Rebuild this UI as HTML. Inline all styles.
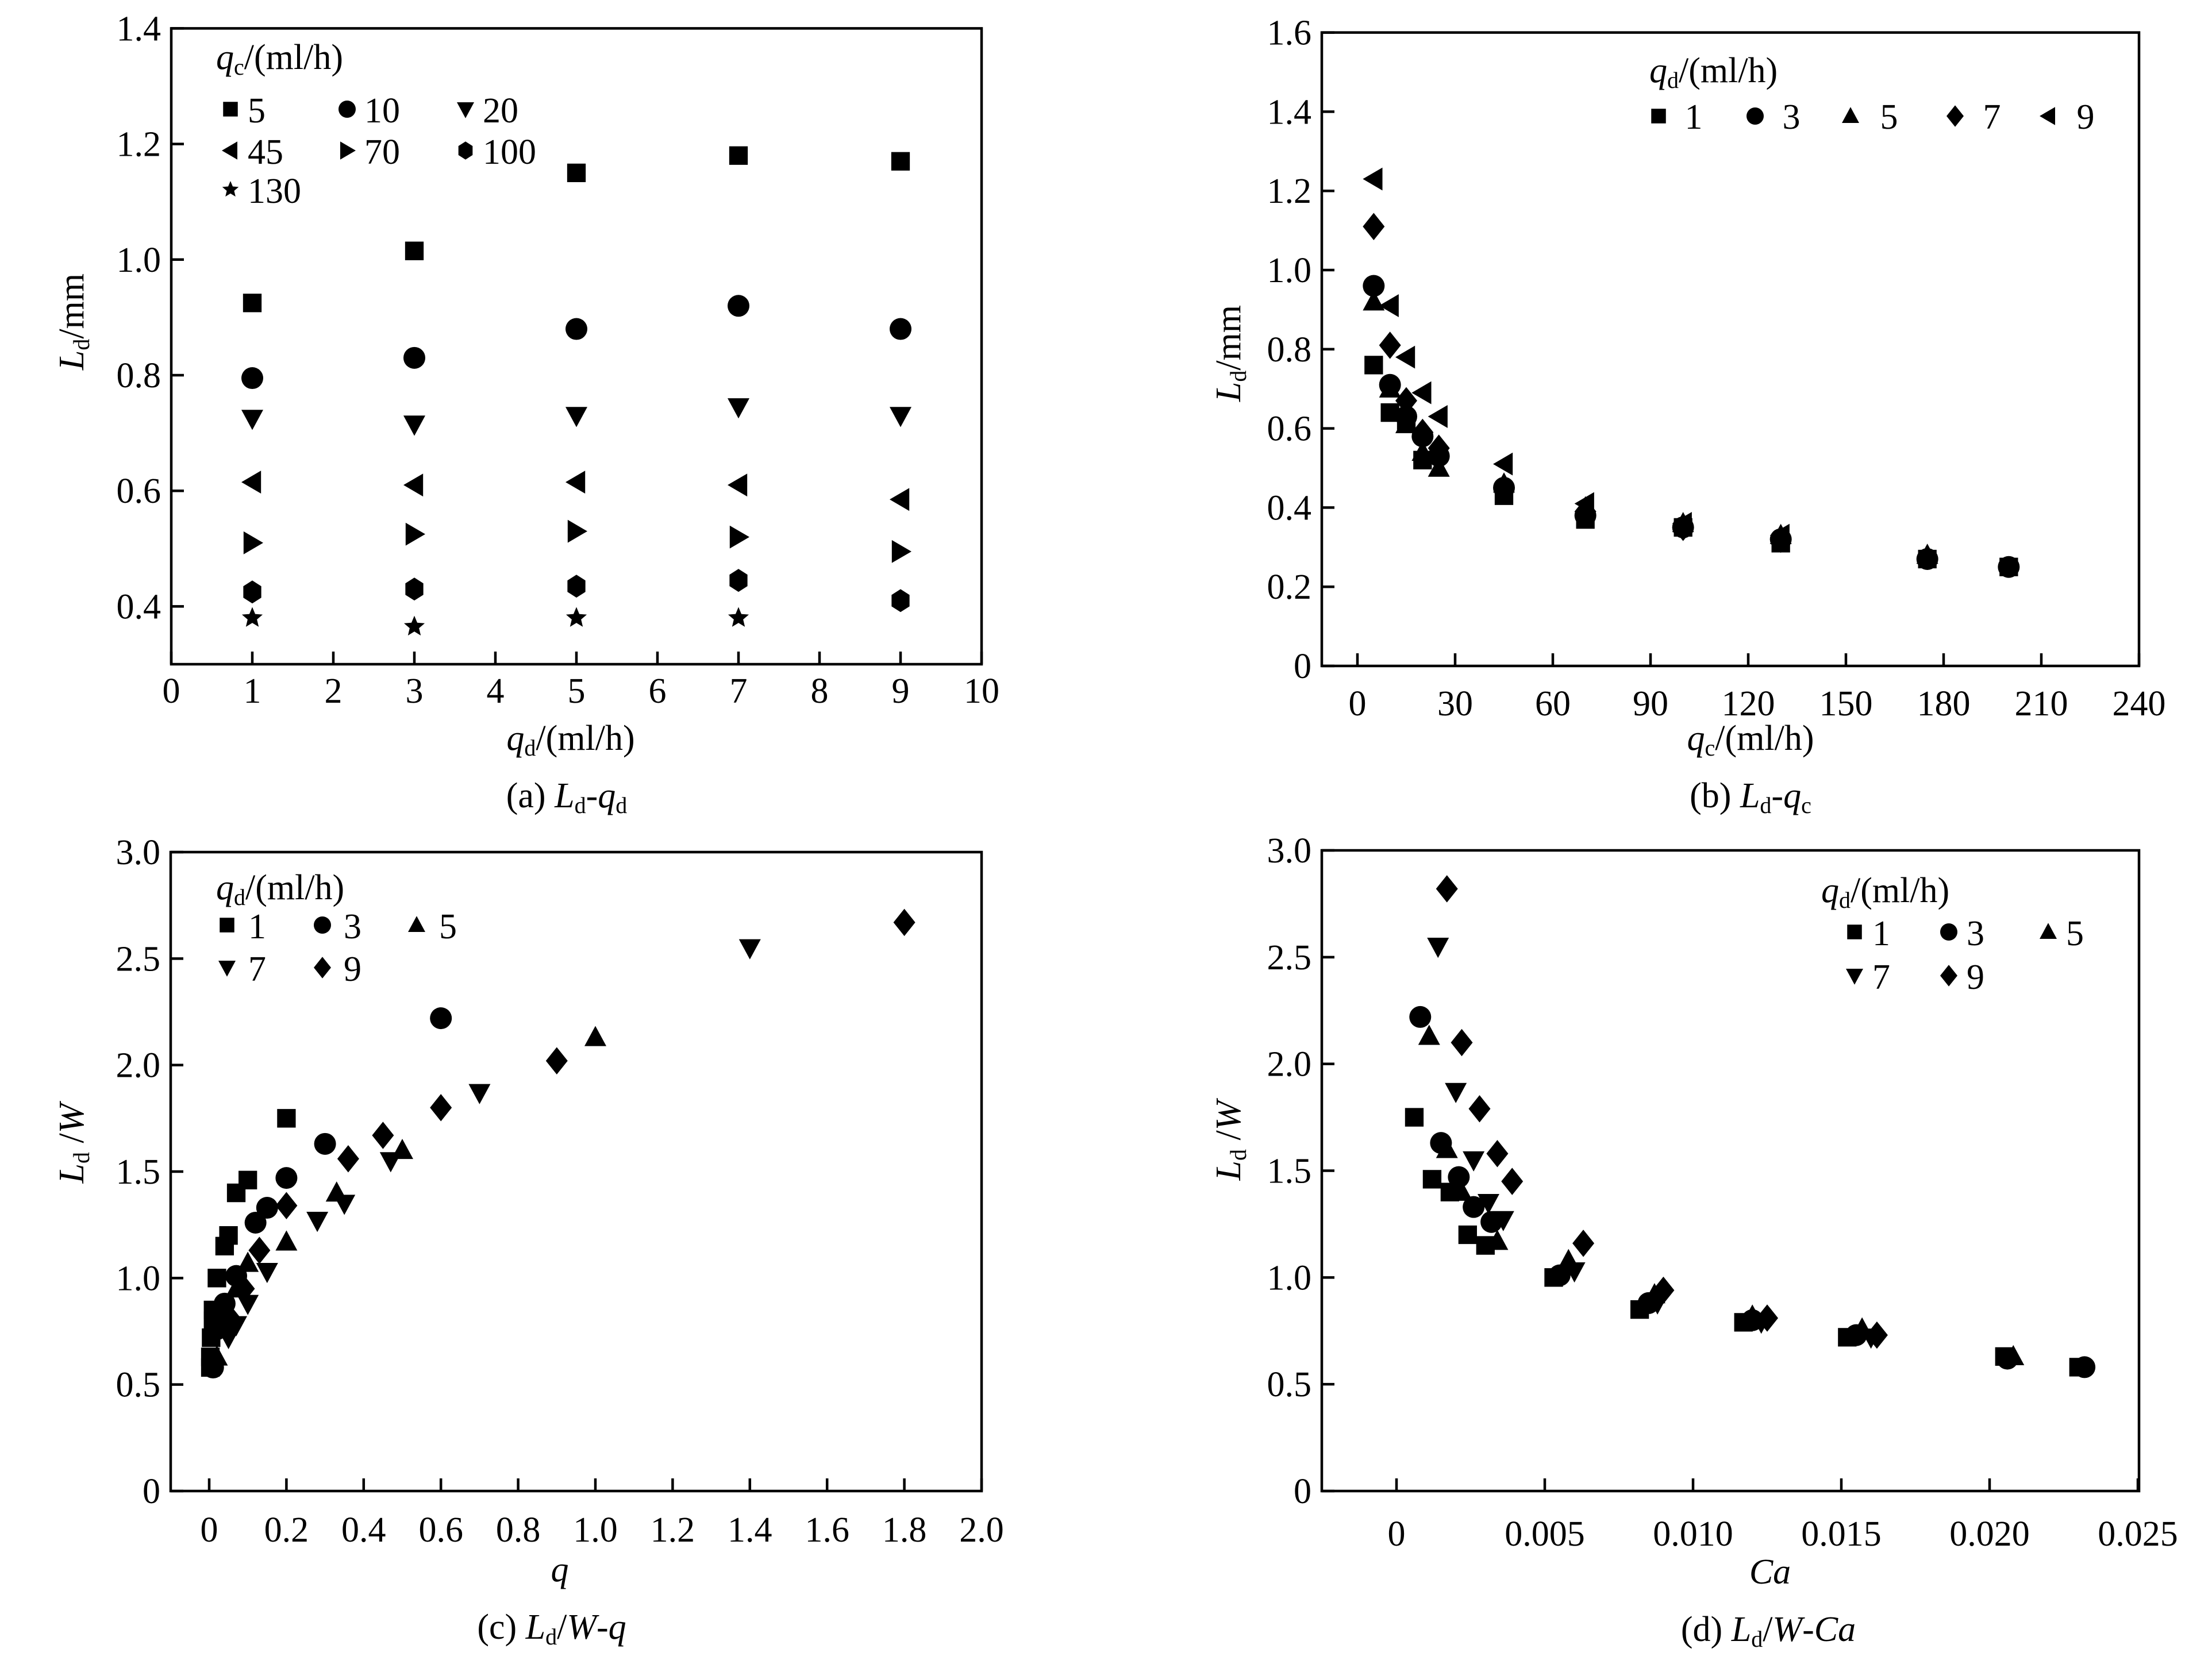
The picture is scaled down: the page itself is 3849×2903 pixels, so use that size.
<!DOCTYPE html>
<html><head><meta charset="utf-8"><style>
html,body{margin:0;padding:0;background:#fff;}
svg{display:block;font-family:"Liberation Serif","Times New Roman",serif;}
text{font-family:"Liberation Serif","Times New Roman",serif;fill:#000;}
</style></head><body>
<svg id="fig" width="3849" height="2903" viewBox="0 0 3849 2903" xmlns="http://www.w3.org/2000/svg" font-family="Liberation Serif, serif">
<g id="static" font-size="62">
  <text x="986" y="1405" text-anchor="middle">(a) <tspan font-style="italic">L</tspan><tspan font-size="40" dy="10">d</tspan><tspan dy="-10">-</tspan><tspan font-style="italic">q</tspan><tspan font-size="40" dy="10">d</tspan></text>
  <text x="3046" y="1405" text-anchor="middle">(b) <tspan font-style="italic">L</tspan><tspan font-size="40" dy="10">d</tspan><tspan dy="-10">-</tspan><tspan font-style="italic">q</tspan><tspan font-size="40" dy="10">c</tspan></text>
  <text x="960" y="2852" text-anchor="middle">(c) <tspan font-style="italic">L</tspan><tspan font-size="40" dy="10">d</tspan><tspan dy="-10">/</tspan><tspan font-style="italic">W</tspan>-<tspan font-style="italic">q</tspan></text>
  <text x="3077" y="2856" text-anchor="middle">(d) <tspan font-style="italic">L</tspan><tspan font-size="40" dy="10">d</tspan><tspan dy="-10">/</tspan><tspan font-style="italic">W</tspan>-<tspan font-style="italic">Ca</tspan></text>
  <text x="993" y="1305" text-anchor="middle"><tspan font-style="italic">q</tspan><tspan font-size="40" dy="10">d</tspan><tspan dy="-10">/(ml/h)</tspan></text>
  <text x="3046" y="1305" text-anchor="middle"><tspan font-style="italic">q</tspan><tspan font-size="40" dy="10">c</tspan><tspan dy="-10">/(ml/h)</tspan></text>
  <text x="974" y="2752" text-anchor="middle" font-style="italic">q</text>
  <text x="3080" y="2756" text-anchor="middle" font-style="italic">Ca</text>
  <text transform="translate(145,560) rotate(-90)" text-anchor="middle"><tspan font-style="italic">L</tspan><tspan font-size="40" dy="10">d</tspan><tspan dy="-10">/mm</tspan></text>
  <text transform="translate(2158,615) rotate(-90)" text-anchor="middle"><tspan font-style="italic">L</tspan><tspan font-size="40" dy="10">d</tspan><tspan dy="-10">/mm</tspan></text>
  <text transform="translate(145,1990) rotate(-90)" text-anchor="middle"><tspan font-style="italic">L</tspan><tspan font-size="40" dy="10">d</tspan><tspan dy="-10"> /</tspan><tspan font-style="italic">W</tspan></text>
  <text transform="translate(2158,1985) rotate(-90)" text-anchor="middle"><tspan font-style="italic">L</tspan><tspan font-size="40" dy="10">d</tspan><tspan dy="-10"> /</tspan><tspan font-style="italic">W</tspan></text>
  <text x="376" y="120"><tspan font-style="italic">q</tspan><tspan font-size="40" dy="10">c</tspan><tspan dy="-10">/(ml/h)</tspan></text>
  <text x="2870" y="143"><tspan font-style="italic">q</tspan><tspan font-size="40" dy="10">d</tspan><tspan dy="-10">/(ml/h)</tspan></text>
  <text x="376" y="1565"><tspan font-style="italic">q</tspan><tspan font-size="40" dy="10">d</tspan><tspan dy="-10">/(ml/h)</tspan></text>
  <text x="3169" y="1570"><tspan font-style="italic">q</tspan><tspan font-size="40" dy="10">d</tspan><tspan dy="-10">/(ml/h)</tspan></text>
</g>
<g id="dyn"></g>
</svg>
<script>
const aQd = [1, 3, 5, 7, 9];
const aSeriesNames = ["5", "10", "20", "45", "70", "100", "130"];
const aQc5 = [0.925, 1.015, 1.15, 1.18, 1.17];
const aQc10 = [0.795, 0.83, 0.88, 0.92, 0.88];
const aQc20 = [0.725, 0.715, 0.73, 0.745, 0.73];
const aQc45 = [0.615, 0.61, 0.615, 0.61, 0.585];
const aQc70 = [0.51, 0.525, 0.53, 0.52, 0.495];
const aQc100 = [0.425, 0.43, 0.435, 0.445, 0.41];
const aQc130 = [0.38, 0.365, 0.38, 0.38, null];
const aXTicks = [0,1,2,3,4,5,6,7,8,9,10];
const aYTicks = [0.4,0.6,0.8,1.0,1.2,1.4];

const bQc = [5, 10, 15, 20, 25, 45, 70, 100, 130, 175, 200];
const bQd1 = [0.76, 0.64, 0.62, 0.52, null, 0.43, 0.37, 0.35, 0.31, 0.27, 0.25];
const bQd3 = [0.96, 0.71, 0.63, 0.58, 0.53, 0.45, 0.38, 0.35, 0.32, 0.27, 0.25];
const bQd5 = [0.92, 0.70, 0.61, 0.54, 0.50, 0.46, 0.40, 0.36, 0.33, 0.28, null];
const bQd7 = [1.11, 0.81, 0.67, 0.59, 0.55, 0.45, 0.39, 0.35, 0.32, null, null];
const bQd9 = [1.23, 0.91, 0.78, 0.69, 0.63, 0.51, 0.41, 0.36, 0.33, null, null];
const bXTicks = [0,30,60,90,120,150,180,210,240];
const bYTicks = [0,0.2,0.4,0.6,0.8,1.0,1.2,1.4,1.6];

const cQ1 = [0.2,0.1,0.07,0.05,0.04,0.02,0.01,0.01,0.005,0.003,0.003];
const cL1 = [1.75,1.46,1.40,1.20,1.15,1.0,0.85,0.80,0.72,0.63,0.58];
const cQ3 = [0.6,0.3,0.2,0.15,0.12,0.07,0.04,0.03,0.02,0.01];
const cL3 = [2.22,1.63,1.47,1.33,1.26,1.01,0.88,0.82,0.76,0.58];
const cQ5 = [1.0,0.5,0.33,0.2,0.1,0.07,0.04,0.02];
const cL5 = [2.13,1.60,1.40,1.17,1.07,0.95,0.80,0.63];
const cQ7 = [1.4,0.7,0.47,0.35,0.28,0.15,0.1,0.07,0.05];
const cL7 = [2.55,1.87,1.55,1.35,1.27,1.03,0.88,0.78,0.72];
const cQ9 = [1.8,0.9,0.6,0.45,0.36,0.2,0.13,0.09,0.05];
const cL9 = [2.67,2.02,1.80,1.67,1.56,1.34,1.13,0.95,0.82];
const cXTicks = [0,0.2,0.4,0.6,0.8,1.0,1.2,1.4,1.6,1.8,2.0];
const cXLabels = ["0","0.2","0.4","0.6","0.8","1.0","1.2","1.4","1.6","1.8","2.0"];
const cYTicks = [0,0.5,1.0,1.5,2.0,2.5,3.0];
const cYLabels = ["0","0.5","1.0","1.5","2.0","2.5","3.0"];

const dCa1 = [0.0006,0.0012,0.0018,0.0024,0.003,0.0053,0.0082,0.0117,0.0152,0.0205,0.023];
const dL1 = [1.75,1.46,1.40,1.20,1.15,1.0,0.85,0.79,0.72,0.63,0.58];
const dCa3 = [0.0008,0.0015,0.0021,0.0026,0.0032,0.0055,0.0085,0.012,0.0155,0.0206,0.0232];
const dL3 = [2.22,1.63,1.47,1.33,1.26,1.01,0.88,0.80,0.73,0.62,0.58];
const dCa5 = [0.0011,0.0017,0.0022,0.0034,0.0058,0.0087,0.012,0.0157,0.0208];
const dL5 = [2.13,1.60,1.40,1.17,1.08,0.92,0.82,0.76,0.63];
const dCa7 = [0.0014,0.002,0.0026,0.0031,0.0036,0.006,0.0088,0.0123,0.016];
const dL7 = [2.55,1.87,1.55,1.35,1.27,1.03,0.88,0.79,0.72];
const dCa9 = [0.0017,0.0022,0.0028,0.0034,0.0039,0.0063,0.009,0.0125,0.0162];
const dL9 = [2.82,2.10,1.79,1.58,1.45,1.16,0.94,0.81,0.73];
const dXTicks = [0,0.005,0.010,0.015,0.020,0.025];
const dXLabels = ["0","0.005","0.010","0.015","0.020","0.025"];

const NS = "http://www.w3.org/2000/svg";
const root = document.getElementById("dyn");
function mk(tag, attrs, parent) {
  const e = document.createElementNS(NS, tag);
  for (const k in attrs) e.setAttribute(k, attrs[k]);
  (parent || root).appendChild(e);
  return e;
}
function markerPath(shape, x, y, s) {
  switch (shape) {
    case "square": return `M${x-s*0.85},${y-s*0.85}h${s*1.7}v${s*1.7}h${-s*1.7}z`;
    case "circle": return `M${x-s},${y}a${s},${s} 0 1,0 ${2*s},0a${s},${s} 0 1,0 ${-2*s},0z`;
    case "up": return `M${x},${y-s*1.05}L${x+s},${y+s*0.8}L${x-s},${y+s*0.8}z`;
    case "down": return `M${x},${y+s*1.05}L${x+s},${y-s*0.8}L${x-s},${y-s*0.8}z`;
    case "left": return `M${x-s},${y}L${x+s*0.8},${y-s*1.05}L${x+s*0.8},${y+s*1.05}z`;
    case "right": return `M${x+s},${y}L${x-s*0.8},${y-s*1.05}L${x-s*0.8},${y+s*1.05}z`;
    case "diamond": return `M${x},${y-s*1.25}L${x+s*1.0},${y}L${x},${y+s*1.25}L${x-s*1.0},${y}z`;
    case "hex": { let p=""; for(let i=0;i<6;i++){const a=Math.PI/3*i-Math.PI/2; p+=(i?"L":"M")+(x+s*0.95*Math.cos(a))+","+(y+s*1.05*Math.sin(a));} return p+"z"; }
    case "star": { let p=""; for(let i=0;i<10;i++){const r=i%2?s*0.45:s; const a=Math.PI/5*i-Math.PI/2; p+=(i?"L":"M")+(x+r*Math.cos(a))+","+(y+r*Math.sin(a));} return p+"z"; }
  }
}
function drawMarker(shape, x, y, s, name, parent) {
  const p = mk("path", {d: markerPath(shape, x, y, s), fill: "#000"}, parent);
  
  
  return p;
}
function text(str, x, y, anchor, name, size) {
  const t = mk("text", {x: x, y: y, "text-anchor": anchor, "font-size": size || 62});
  t.textContent = str;
  
  
  return t;
}
function axes(id, L, R, T, B, xTicks, xLabels, sx, yTicks, yLabels, sy, xLabY) {
  const g = mk("g", {});
  
  
  const box = mk("rect", {x: L, y: T, width: R - L, height: B - T, fill: "none", stroke: "#000", "stroke-width": 4.5}, g);
  
  
  xTicks.forEach((v, i) => {
    const x = sx(v);
    const tk = mk("line", {x1: x, x2: x, y1: B, y2: B - 22, stroke: "#000", "stroke-width": 4.5}, g);
    
    
    text(xLabels[i], x, xLabY, "middle", 'x-tick-label-' + id);
  });
  yTicks.forEach((v, i) => {
    const y = sy(v);
    const tk = mk("line", {x1: L, x2: L + 22, y1: y, y2: y, stroke: "#000", "stroke-width": 4.5}, g);
    
    
    text(yLabels[i], L - 18, y + 21, "end", 'y-tick-label-' + id);
  });
}
function fmt1(v){ return v === 0 ? "0" : v.toFixed(1); }

const MS = 19;
const axA = v => 298 + v * 141;
const ayA = v => 1156 - (v - 0.3) * 1006;
axes("a", 298, 1708, ayA(1.4), 1156, aXTicks, aXTicks.map(String), axA, aYTicks, aYTicks.map(fmt1), ayA, 1223);
const aSeries = [aQc5, aQc10, aQc20, aQc45, aQc70, aQc100, aQc130];
const aShapes = ["square","circle","down","left","right","hex","star"];
aSeries.forEach((ser, si) => {
  ser.forEach((v, i) => {
    if (v === null) return;
    drawMarker(aShapes[si], axA(aQd[i]), ayA(v), MS, 'point-qc' + aSeriesNames[si]);
  });
});
const aLegX = [401, 604, 810], aLegY = [193, 265, 333];
aSeriesNames.forEach((n, i) => {
  const c = i % 3, r = Math.floor(i / 3);
  drawMarker(aShapes[i], aLegX[c], aLegY[r] - 3, 15, 'legend-marker-qc' + n);
  text(n, aLegX[c] + 30, aLegY[r] + 20, "start", 'legend-label-qc' + n);
});

const axB = v => 2362 + v * (1360 / 240);
const ayB = v => 1159 - v * 689;
axes("b", 2300, 3722, ayB(1.6), 1159, bXTicks, bXTicks.map(String), axB, bYTicks, bYTicks.map(fmt1), ayB, 1245);
const qdNames = ["1","3","5","7","9"];
const bShapes = ["square","circle","up","diamond","left"];
[bQd1, bQd3, bQd5, bQd7, bQd9].forEach((ser, si) => {
  ser.forEach((v, i) => {
    if (v === null) return;
    drawMarker(bShapes[si], axB(bQc[i]), ayB(v), MS, 'point-b-qd' + qdNames[si]);
  });
});
const bLegMX = [2886, 3054, 3220, 3402, 3564], bLegTX = [2947, 3117, 3287, 3466, 3629];
qdNames.forEach((n, i) => {
  drawMarker(bShapes[i], bLegMX[i], 202, 15, 'legend-marker-b-qd' + n);
  text(n, bLegTX[i], 224, "middle", 'legend-label-b-qd' + n);
});

const axC = v => 364 + v * 672;
const ayC = v => 2595 - v * (1112 / 3);
axes("c", 297, 1708, ayC(3.0), 2595, cXTicks, cXLabels, axC, cYTicks, cYLabels, ayC, 2683);
const cShapes = ["square","circle","up","down","diamond"];
[[cQ1,cL1],[cQ3,cL3],[cQ5,cL5],[cQ7,cL7],[cQ9,cL9]].forEach((pair, si) => {
  pair[0].forEach((q, i) => {
    drawMarker(cShapes[si], axC(q), ayC(pair[1][i]), MS, 'point-c-qd' + qdNames[si]);
  });
});
const cLegMX = [395, 561, 725], cLegTX = [432, 598, 764], cLegY = [1613, 1687];
qdNames.forEach((n, i) => {
  const c = i % 3, r = Math.floor(i / 3);
  drawMarker(cShapes[i], cLegMX[c], cLegY[r] - 3, 15, 'legend-marker-c-qd' + n);
  text(n, cLegTX[c], cLegY[r] + 20, "start", 'legend-label-c-qd' + n);
});

const axD = v => 2430 + v * 51600;
const ayD = v => 2595 - v * (1115 / 3);
axes("d", 2300, 3722, ayD(3.0), 2595, dXTicks, dXLabels, axD, cYTicks, cYLabels, ayD, 2690);
[[dCa1,dL1],[dCa3,dL3],[dCa5,dL5],[dCa7,dL7],[dCa9,dL9]].forEach((pair, si) => {
  pair[0].forEach((q, i) => {
    drawMarker(cShapes[si], axD(q), ayD(pair[1][i]), MS, 'point-d-qd' + qdNames[si]);
  });
});
const dLegMX = [3227, 3391, 3564], dLegTX = [3258, 3422, 3595], dLegY = [1625, 1701];
qdNames.forEach((n, i) => {
  const c = i % 3, r = Math.floor(i / 3);
  drawMarker(cShapes[i], dLegMX[c], dLegY[r] - 3, 15, 'legend-marker-d-qd' + n);
  text(n, dLegTX[c], dLegY[r] + 20, "start", 'legend-label-d-qd' + n);
});
</script>
</body></html>
